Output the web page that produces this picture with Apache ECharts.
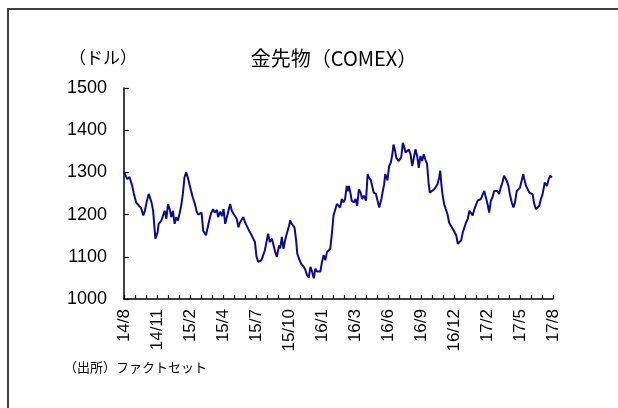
<!DOCTYPE html>
<html>
<head>
<meta charset="utf-8">
<script src="https://cdn.jsdelivr.net/npm/echarts@6/dist/echarts.min.js"></script>
<style>
  html, body { margin: 0; padding: 0; background: #fff; }
  #chart { width: 618px; height: 408px; }
</style>
</head>
<body>
<div id="chart"></div>
<script>
// COMEX gold futures, daily closes indexed by trading session (Aug 2014 - Aug 2017)
const sessions = [
  0, 2, 6, 10, 13, 15, 18, 22, 27, 31, 35, 38, 41, 45, 47, 50, 53, 57, 61, 63,
  68, 71, 74, 77, 80, 83, 86, 89, 92, 95, 98, 101, 104, 107, 110, 113, 116, 119, 122, 125,
  129, 132, 135, 138, 141, 144, 149, 152, 155, 158, 162, 165, 169, 171, 175, 178, 181, 184, 187, 190,
  193, 196, 199, 202, 205, 208, 211, 214, 217, 220, 223, 226, 229, 232, 235, 238, 241, 244, 247, 250,
  253, 256, 259, 262, 265, 269, 272, 275, 278, 280, 282, 284, 287, 290, 293, 296, 301, 302, 305, 308,
  310, 313, 315, 318, 322, 327, 330, 333, 336, 339, 342, 345, 348, 351, 354, 357, 360, 363, 366, 369,
  372, 375, 378, 381, 384, 387, 390, 393, 396, 399, 402, 405, 407, 409, 412, 414, 416, 418, 421, 424,
  427, 430, 433, 436, 440, 443, 445, 449, 451, 454, 458, 461, 464, 465, 468, 470, 473, 475, 477, 479,
  482, 485, 488, 490, 493, 495, 499, 501, 504, 507, 509, 512, 515, 518, 521, 524, 527, 530, 533, 536,
  539, 542, 545, 548, 551, 552, 554, 556, 559, 564, 567, 570, 573, 575, 577, 579, 582, 585, 588, 591,
  594, 598, 601, 604, 607, 610, 613, 616, 619, 622, 625, 628, 631, 634, 637, 640, 643, 646, 649, 652,
  655, 658, 661, 664, 667, 670, 673, 676, 679, 682, 685, 688, 691, 694, 696, 699, 702, 705, 708, 711,
  714, 717, 720, 723, 726, 727, 731, 734, 737, 740, 743, 746, 749, 752, 755, 758, 761, 764, 765, 769,
  772, 775, 778
];
const prices = [
  1300, 1296, 1284, 1289, 1286, 1268, 1249, 1229, 1221, 1216, 1198, 1209, 1229, 1249, 1245, 1229, 1209, 1143, 1158, 1178,
  1186, 1198, 1209, 1190, 1225, 1213, 1194, 1209, 1178, 1194, 1186, 1202, 1221, 1249, 1288, 1300, 1288, 1272, 1256, 1241,
  1225, 1208, 1200, 1198, 1205, 1162, 1151, 1147, 1186, 1202, 1213, 1205, 1211, 1194, 1207, 1196, 1213, 1178, 1194, 1198,
  1225, 1209, 1202, 1202, 1190, 1170, 1182, 1178, 1194, 1182, 1174, 1170, 1158, 1151, 1143, 1135, 1100, 1088, 1092, 1092,
  1088, 1115, 1115, 1155, 1135, 1143, 1127, 1111, 1100, 1104, 1127, 1120, 1147, 1119, 1139, 1155, 1178, 1186, 1178, 1180,
  1170, 1139, 1108, 1096, 1084, 1076, 1068, 1056, 1051, 1076, 1065, 1049, 1072, 1065, 1061, 1065, 1088, 1104, 1092, 1111,
  1115, 1119, 1155, 1198, 1198, 1225, 1229, 1217, 1237, 1229, 1237, 1268, 1255, 1268, 1249, 1233, 1235, 1229, 1237, 1221,
  1260, 1253, 1237, 1245, 1233, 1296, 1289, 1281, 1278, 1252, 1249, 1245, 1217, 1213, 1237, 1252, 1272, 1296, 1289, 1281,
  1315, 1323, 1343, 1366, 1351, 1335, 1327, 1323, 1335, 1370, 1362, 1347, 1351, 1354, 1343, 1315, 1335, 1355, 1339, 1311,
  1339, 1327, 1343, 1330, 1320, 1304, 1272, 1252, 1256, 1260, 1264, 1272, 1288, 1304, 1272, 1249, 1225, 1213, 1202, 1182,
  1174, 1166, 1162, 1151, 1131, 1131, 1139, 1158, 1162, 1182, 1190, 1209, 1205, 1198, 1213, 1217, 1233, 1229, 1237, 1233,
  1256, 1252, 1225, 1205, 1233, 1241, 1256, 1252, 1256, 1249, 1264, 1276, 1292, 1288, 1280, 1268, 1245, 1229, 1217, 1229,
  1256, 1252, 1264, 1268, 1296, 1288, 1268, 1272, 1252, 1256, 1248, 1225, 1213, 1209, 1221, 1237, 1248, 1248, 1276, 1268,
  1284, 1292, 1288
];
// axis labels, one every 60 sessions
const tickLabels = ['14/8', '14/11', '15/2', '15/4', '15/7', '15/10', '16/1', '16/3', '16/6', '16/9', '16/12', '17/2', '17/5', '17/8'];

const latin = '"Liberation Sans", Arial, sans-serif';
const cjk = '"Noto Sans CJK JP", "Noto Sans", sans-serif';

const chart = echarts.init(document.getElementById('chart'), null, { renderer: 'canvas' });
chart.setOption({
  animation: false,
  backgroundColor: '#fff',
  grid: { left: 124, right: 65, top: 88, bottom: 109, containLabel: false },
  xAxis: {
    type: 'value',
    min: 0,
    max: 780,
    interval: 20,
    axisLine: { show: true, lineStyle: { color: '#000', width: 1.5 } },
    axisTick: { show: true, inside: true, length: 4, lineStyle: { color: '#000', width: 1.2 } },
    splitLine: { show: false },
    axisLabel: {
      rotate: 90,
      margin: 10,
      fontSize: 17,
      fontFamily: latin,
      color: '#000',
      showMinLabel: true,
      showMaxLabel: true,
      formatter: v => (v % 60 === 0 ? tickLabels[v / 60] : '')
    }
  },
  yAxis: {
    type: 'value',
    min: 1000,
    max: 1500,
    interval: 100,
    axisLine: { show: true, lineStyle: { color: '#000', width: 1.5 } },
    axisTick: { show: true, inside: true, length: 5, lineStyle: { color: '#000', width: 1.2 } },
    splitLine: { show: false },
    axisLabel: { margin: 17, fontSize: 18, fontFamily: latin, color: '#000', formatter: v => String(v) }
  },
  series: [{
    type: 'line',
    data: sessions.map((d, i) => [d, prices[i]]),
    showSymbol: false,
    smooth: false,
    lineStyle: { color: '#0c0c8a', width: 2 },
    emphasis: { disabled: true }
  }],
  graphic: [
    {
      type: 'rect',
      shape: { x: 8, y: 9, width: 640, height: 440 },
      style: { fill: 'none', stroke: '#404040', lineWidth: 2 },
      silent: true
    },
    {
      type: 'text', x: 334, y: 58,
      style: { text: '金先物（COMEX）', font: '20px ' + cjk, fill: '#000', textAlign: 'center', textVerticalAlign: 'middle' }
    },
    {
      type: 'text', x: 103, y: 58,
      style: { text: '（ドル）', font: '17px ' + cjk, fill: '#000', textAlign: 'center', textVerticalAlign: 'middle' }
    },
    {
      type: 'text', x: 64, y: 367,
      style: { text: '（出所）ファクトセット', font: '13px ' + cjk, fill: '#000', textAlign: 'left', textVerticalAlign: 'middle' }
    }
  ]
});
</script>
</body>
</html>
